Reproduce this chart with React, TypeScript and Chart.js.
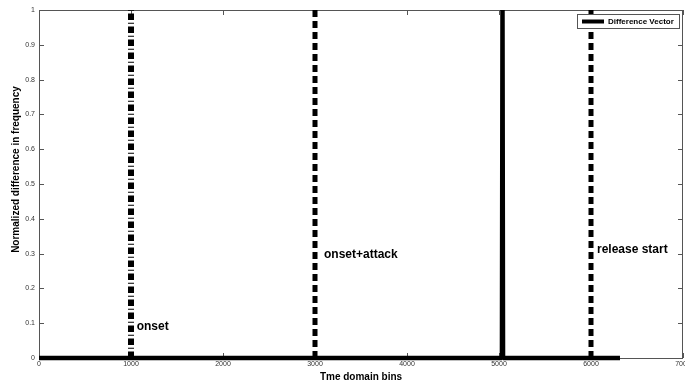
import React, { useEffect, useRef } from 'react';
import { Chart, registerables } from 'chart.js';

Chart.register(...registerables);

// ---- data ----
const diffX = [0, 5032, 5038, 5044, 6315];
const diffY = [0, 0, 1, 0, 0];
const markerX = [1000, 3000, 6000];
const markerNames = ['onset', 'onset+attack', 'release start'];
const markerLabelX = [1062, 3098, 6065];
const markerLabelY = [0.089, 0.297, 0.312];
const xTickLabels = ['0', '1000', '2000', '3000', '4000', '5000', '6000', '7000'];
const yTickLabels = ['0', '0.1', '0.2', '0.3', '0.4', '0.5', '0.6', '0.7', '0.8', '0.9', '1'];
const xTitle = 'Tme domain bins';
const yTitle = 'Normalized difference in frequency';
const legendLabel = 'Difference Vector';

const FONT = '"Liberation Sans", Arial, Helvetica, sans-serif';

const markerDash = [[6.5, 2.7, 1, 2.8], [7, 4], [7, 4]];
const markerWidth = [6, 5, 5];

const matlabPlugin = {
  id: 'matlabAxes',
  beforeDatasetsDraw(chart: any) {
    const { ctx, chartArea, scales } = chart;
    const { left, right, top, bottom } = chartArea;
    const x = scales.x;
    const y = scales.y;
    ctx.save();
    ctx.strokeStyle = '#555';
    ctx.lineWidth = 1;
    ctx.beginPath();
    ctx.moveTo(left + 0.5, top + 0.5);
    ctx.lineTo(right - 0.5, top + 0.5);
    ctx.lineTo(right - 0.5, bottom + 0.5);
    ctx.lineTo(left + 0.5, bottom + 0.5);
    ctx.closePath();
    ctx.stroke();
    const tl = 5;
    x.ticks.forEach((t: any) => {
      const px = Math.round(x.getPixelForValue(t.value)) + 0.5;
      ctx.beginPath();
      ctx.moveTo(px, bottom);
      ctx.lineTo(px, bottom - tl);
      ctx.moveTo(px, top);
      ctx.lineTo(px, top + tl);
      ctx.stroke();
    });
    y.ticks.forEach((t: any) => {
      const py = Math.round(y.getPixelForValue(t.value)) + 0.5;
      ctx.beginPath();
      ctx.moveTo(left, py);
      ctx.lineTo(left + tl, py);
      ctx.moveTo(right, py);
      ctx.lineTo(right - tl, py);
      ctx.stroke();
    });
    ctx.restore();
  },
  afterDatasetsDraw(chart: any) {
    const { ctx, scales } = chart;
    const x = scales.x;
    const y = scales.y;
    ctx.save();
    // marker labels
    ctx.fillStyle = '#000';
    ctx.font = `bold 12px ${FONT}`;
    ctx.textAlign = 'left';
    ctx.textBaseline = 'middle';
    markerNames.forEach((name, i) => {
      ctx.fillText(name, x.getPixelForValue(markerLabelX[i]), y.getPixelForValue(markerLabelY[i]));
    });
    // legend box
    const bx = 577.5, by = 14.5, bw = 102, bh = 14;
    ctx.fillStyle = '#fff';
    ctx.fillRect(bx, by, bw, bh);
    ctx.strokeStyle = '#555';
    ctx.lineWidth = 1;
    ctx.strokeRect(bx, by, bw, bh);
    const ly = by + bh / 2;
    ctx.strokeStyle = '#000';
    ctx.lineWidth = 4;
    ctx.beginPath();
    ctx.moveTo(582, ly);
    ctx.lineTo(604, ly);
    ctx.stroke();
    ctx.fillStyle = '#000';
    ctx.font = `bold 8px ${FONT}`;
    ctx.textAlign = 'left';
    ctx.textBaseline = 'middle';
    ctx.fillText(chart.data.datasets[0].label, 608, ly + 0.5);
    // y title
    ctx.save();
    ctx.translate(16.5, 169.5);
    ctx.rotate(-Math.PI / 2);
    ctx.textAlign = 'center';
    ctx.textBaseline = 'middle';
    ctx.font = `bold 10px ${FONT}`;
    ctx.fillText(yTitle, 0, 0);
    ctx.restore();
    ctx.restore();
  },
};

export default function App() {
  const ref = useRef<HTMLCanvasElement | null>(null);
  useEffect(() => {
    document.body.style.margin = '0';
    const canvas = ref.current;
    if (!canvas) return;
    const markerSets = markerX.map((mx, i) => ({
      label: markerNames[i],
      data: [{ x: mx, y: 0 }, { x: mx, y: 1 }],
      showLine: true,
      borderColor: '#000',
      borderWidth: markerWidth[i],
      borderDash: markerDash[i],
      borderCapStyle: 'butt',
      pointRadius: 0,
      clip: { left: 0, top: 0, right: 0, bottom: 0 },
    }));
    const chart = new Chart(canvas, {
      type: 'scatter',
      data: {
        datasets: [
          {
            label: legendLabel,
            data: diffX.map((v, i) => ({ x: v, y: diffY[i] })),
            showLine: true,
            borderColor: '#000',
            borderWidth: 4.5,
            pointRadius: 0,
            borderJoinStyle: 'bevel',
            clip: { left: 5, top: 0, right: 5, bottom: 5 },
          },
          ...markerSets,
        ] as any,
      },
      options: {
        responsive: false,
        animation: false,
        devicePixelRatio: 1,
        layout: { padding: { top: 10, right: 2, left: 0, bottom: 0 } },
        plugins: { legend: { display: false }, tooltip: { enabled: false } },
        scales: {
          x: {
            type: 'linear',
            min: 0,
            max: 7000,
            grid: { display: false, drawTicks: false },
            border: { display: false },
            ticks: {
              stepSize: 1000,
              padding: 2,
              color: '#333',
              font: { size: 7, family: FONT },
              maxRotation: 0,
              autoSkip: false,
              callback: (_v: any, i: number) => xTickLabels[i],
            },
            title: {
              display: true,
              text: xTitle,
              color: '#000',
              font: { size: 10, weight: 'bold', family: FONT },
              padding: { top: 0, bottom: 0 },
            },
            afterFit: (s: any) => {
              s.height = 25;
              s.paddingLeft = 0;
              s.paddingRight = 0;
            },
          },
          y: {
            type: 'linear',
            min: 0,
            max: 1,
            grid: { display: false, drawTicks: false },
            border: { display: false },
            ticks: {
              stepSize: 0.1,
              padding: 4,
              color: '#333',
              font: { size: 7, family: FONT },
              autoSkip: false,
              callback: (_v: any, i: number) => yTickLabels[i],
            },
            afterFit: (s: any) => {
              s.width = 39;
              s.paddingTop = 0;
              s.paddingBottom = 0;
            },
          },
        },
      } as any,
      plugins: [matlabPlugin],
    });
    return () => chart.destroy();
  }, []);
  return <canvas ref={ref} width={685} height={383} style={{ display: 'block' }} />;
}
